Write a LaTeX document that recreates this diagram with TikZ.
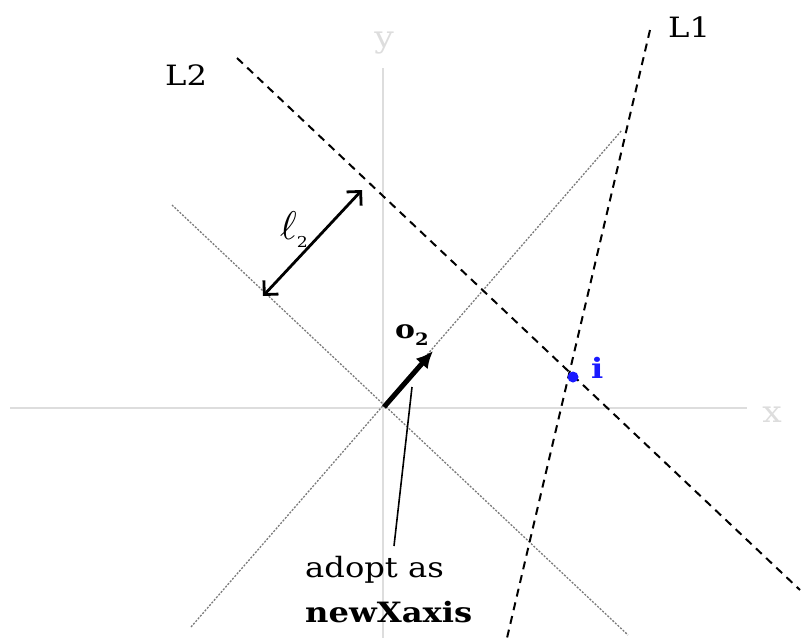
\documentclass[tikz,border=0pt]{standalone}
\usepackage{fontspec}
\setmainfont{DejaVu Serif}[FakeStretch=1.15]
\usetikzlibrary{arrows.meta}
\definecolor{axisgray}{HTML}{DDDDDD}
\definecolor{guidegray}{HTML}{7A7A7A}
\definecolor{ptblue}{HTML}{1A1AFF}
\tikzset{
  axisline/.style={draw=axisgray, line width=2pt},
  guideline/.style={draw=guidegray, line width=1.3pt, dash pattern=on 2pt off 1.5pt},
  dashline/.style={draw=black, line width=2pt, dash pattern=on 8pt off 6pt},
  lab/.style={inner sep=0pt, font=\fontsize{28}{30}\selectfont},
  axlab/.style={inner sep=0pt, text=axisgray, font=\fontsize{30}{32}\selectfont},
}
\begin{document}
\begin{tikzpicture}[x=1pt,y=-1pt]
\useasboundingbox (0,0) rectangle (804,638);
% coordinates
\coordinate (O) at (384,407);
\coordinate (xa) at (10,408);  \coordinate (xb) at (747,408);
\coordinate (ya) at (383,68);  \coordinate (yb) at (383,638);
\coordinate (ga) at (191,627); \coordinate (gb) at (622,130);
\coordinate (ha) at (172,205); \coordinate (hb) at (628,635);
\coordinate (l2a) at (237,58); \coordinate (l2b) at (800,590);
\coordinate (l1a) at (650,30); \coordinate (l1b) at (507,638);
\coordinate (oTip) at (433,351);
\coordinate (dA) at (263,296); \coordinate (dB) at (362,190);
\coordinate (pA) at (412,387); \coordinate (pB) at (394,546);
% axes
\draw[axisline] (xa) -- (xb);
\draw[axisline] (ya) -- (yb);
\node[axlab, anchor=base] (xlab) at (772,422) {x};
\node[axlab, anchor=base] (ylab) at (384,47) {y};
% guide lines
\draw[guideline] (ga) -- (gb);
\draw[guideline] (ha) -- (hb);
% dashed lines
\draw[dashline] (l2a) -- (l2b);
\draw[dashline] (l1a) -- (l1b);
\node[lab, anchor=base west] (L2) at (165,85) {L2};
\node[lab, anchor=base west] (L1) at (668,37) {L1};
% distance arrow
\draw[line width=2.8pt, {Straight Barb[length=10pt,width=20pt,line width=2.8pt]}-{Straight Barb[length=10pt,width=20pt,line width=2.8pt]}] (dA) -- (dB);
\node[inner sep=0pt] (ell) at (294,230) {\scalebox{4}{$\ell$}\raisebox{-8pt}{\fontsize{15}{15}\selectfont 2}};
% o2 arrow
\draw[line width=5pt, -{Latex[length=17pt,width=16pt]}] (O) -- (oTip);
\node[inner sep=0pt, anchor=base west] (o2) at (395,338) {\fontsize{26}{26}\selectfont\bfseries o\raisebox{-7pt}{\fontsize{17}{17}\selectfont 2}};
% pointer
\draw[line width=1.6pt] (pA) -- (pB);
\node[lab, anchor=base west] (adopt) at (305,577) {adopt as};
\node[lab, anchor=base west] (newx) at (305,622) {\bfseries newXaxis};
% intersection point
\fill[ptblue] (573,377) circle (5.5pt) coordinate (ipt);
\node[lab, anchor=base west, text=ptblue] (ilab) at (591,378) {\bfseries i};
\end{tikzpicture}
\end{document}
